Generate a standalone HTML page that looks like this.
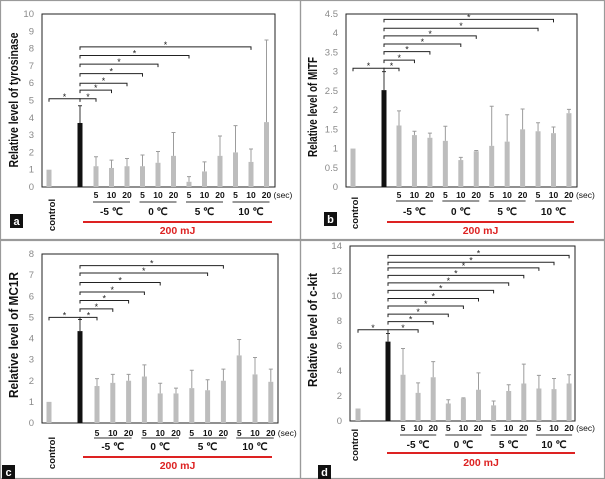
<!DOCTYPE html>
<html><head><meta charset="utf-8"><style>
html,body{margin:0;padding:0;background:#fff;}
svg{display:block;font-family:"Liberation Sans",sans-serif;}
</style></head><body>
<svg id="fig" width="605" height="479" viewBox="0 0 605 479"></svg>
<script>
// ---- data ----
const categories = ["control","200mJ","-5C 5","-5C 10","-5C 20","0C 5","0C 10","0C 20","5C 5","5C 10","5C 20","10C 5","10C 10","10C 20"];
const tyrValues = [1,3.7,1.2,1.1,1.2,1.2,1.4,1.8,0.3,0.9,1.8,2.0,1.45,3.75];
const tyrErr    = [1,4.7,1.75,1.55,1.65,1.85,2.05,3.15,0.6,1.45,2.95,3.55,2.2,8.5];
const tyrTicks  = [0,1,2,3,4,5,6,7,8,9,10];
const tyrBrEnds = [0,1,2,3,4,6,10];
const tyrBrLevels=[5.1,5.6,6.0,6.55,7.1,7.6,8.1];
const tyrCtrlLevel=5.1;

const mitfValues=[1,2.52,1.6,1.35,1.28,1.2,0.7,0.93,1.07,1.18,1.5,1.45,1.4,1.92];
const mitfErr   =[1,3.0,1.98,1.45,1.4,1.58,0.77,0.95,2.1,1.88,2.03,1.67,1.56,2.02];
const mitfTicks =["0","0.5","1","1.5","2","2.5","3","3.5","4","4.5"];
const mitfBrEnds=[0,1,2,4,5,9,10];
const mitfBrLevels=[3.09,3.3,3.52,3.72,3.93,4.13,4.36];
const mitfCtrlLevel=3.09;

const mc1rValues=[1,4.35,1.75,1.9,2.0,2.2,1.4,1.4,1.65,1.55,2.0,3.2,2.3,1.95];
const mc1rErr   =[1,4.9,2.1,2.3,2.3,2.75,1.88,1.65,2.5,2.05,2.55,3.95,3.1,2.55];
const mc1rTicks =[0,1,2,3,4,5,6,7,8];
const mc1rBrEnds=[0,1,2,3,4,7,8];
const mc1rBrLevels=[5.0,5.4,5.8,6.2,6.65,7.1,7.45];
const mc1rCtrlLevel=5.0;

const ckitValues=[1,6.35,3.7,2.25,3.5,1.4,1.8,2.5,1.25,2.4,3.0,2.6,2.55,3.0];
const ckitErr   =[1,7.0,5.8,3.05,4.75,1.7,1.85,3.85,1.6,2.9,4.55,3.65,3.4,3.7];
const ckitTicks =[0,2,4,6,8,10,12,14];
const ckitBrEnds=[1,2,3,4,5,6,7,8,9,10,11];
const ckitBrLevels=[7.3,7.95,8.55,9.2,9.8,10.45,11.05,11.65,12.25,12.7,13.25];
const ckitCtrlLevel=7.3;

const secLabels=["5","10","20"];
const tempLabels=["-5 ℃","0 ℃","5 ℃","10 ℃"];

// ---- drawing ----
const NS="http://www.w3.org/2000/svg";
const svg=document.getElementById('fig');
function mk(tag,attrs,parent,text){const e=document.createElementNS(NS,tag);for(const k in attrs)e.setAttribute(k,attrs[k]);if(text!==undefined)e.textContent=text;(parent||svg).appendChild(e);return e;}

function panel(c){
  const g=mk('g',{});
  
  
  const fr=mk('rect',{x:c.bx,y:c.by,width:c.bw,height:c.bh,fill:'none',stroke:'#9a9a9a','stroke-width':1.2},g);
  
  const y=v=>c.y0-v*(c.y0-c.yTop)/c.max;
  const x=i=> i===0?c.xc: i===1?c.xb : c.x0+(i-2)*c.dx;
  const pf=mk('rect',{x:c.left,y:c.yTop,width:c.right-c.left,height:c.y0-c.yTop,fill:'none',stroke:'#222','stroke-width':1},g);
  
  c.ticks.forEach(t=>{const tl=mk('text',{x:c.left-8,y:y(+t)+3,'text-anchor':'end','font-size':9.5,fill:'#8a8a8a'},g,String(t));
    });
  c.vals.forEach((v,i)=>{
    const cx=x(i),col=i===1?'#111':'#bdbdbd',ec=i===1?'#333':'#9c9c9c';
    const b=mk('rect',{x:cx-2.5,y:y(v),width:5,height:c.y0-y(v),fill:col},g);
    
    if(i>0){const e=c.err[i];
      const l=mk('path',{d:`M${cx} ${y(v)}V${y(e)}M${cx-2} ${y(e)}H${cx+2}`,stroke:ec,'stroke-width':1,fill:'none'},g);
      }
  });
  function br(x1,x2,lv){const yy=y(lv);
    const p=mk('path',{d:`M${x1} ${yy+3}V${yy}H${x2}V${yy+3}`,stroke:'#222','stroke-width':1,fill:'none'},g);
    
    const s=mk('text',{x:(x1+x2)/2,y:yy+1,'text-anchor':'middle','font-size':9,fill:'#222'},g,'*');
    }
  br(x(0),x(1),c.ctrl);
  c.brEnds.forEach((k,j)=>br(x(1),x(k+2),c.brLv[j]));
  for(let i=0;i<12;i++){const t=mk('text',{x:x(i+2),y:c.secY,'text-anchor':'middle','font-size':8.5,'font-weight':'bold',fill:'#111'},g,secLabels[i%3]);
    }
  const sc=mk('text',{x:x(13)+7,y:c.secY,'font-size':8.5,fill:'#111'},g,'(sec)');
  
  for(let k=0;k<4;k++){const a=x(2+3*k)-3,bb=x(4+3*k)+3;
    const u=mk('line',{x1:a,x2:bb,y1:c.ulY,y2:c.ulY,stroke:'#333','stroke-width':1},g);
    
    const t=mk('text',{x:(a+bb)/2,y:c.tempY,'text-anchor':'middle','font-size':10,'font-weight':'bold',fill:'#111'},g,tempLabels[k]);
    }
  const rl=mk('line',{x1:c.redX1,x2:c.redX2,y1:c.redY,y2:c.redY,stroke:'#d22','stroke-width':2},g);
  
  const mj=mk('text',{x:(c.redX1+c.redX2)/2,y:c.mjY,'text-anchor':'middle','font-size':10.5,'font-weight':'bold',fill:'#d22'},g,'200 mJ');
  
  const ct=mk('text',{transform:`translate(${c.ctrlX+3},${c.ctrlY}) rotate(-90)`,'text-anchor':'middle','font-size':9.5,'font-weight':'bold',fill:'#111'},g,'control');
  
  const yt=mk('text',{transform:`translate(${c.titleX+5},${c.titleY}) rotate(-90)`,'text-anchor':'middle','font-size':13,'font-weight':'bold',fill:'#111',textLength:c.titleLen,lengthAdjust:'spacingAndGlyphs'},g,c.title);
  
  const lb=mk('rect',{x:c.lx,y:c.ly,width:13,height:14,fill:'#111'},g);
  
  const lt=mk('text',{x:c.lx+6.5,y:c.ly+11,'text-anchor':'middle','font-size':11,'font-weight':'bold',fill:'#fff'},g,c.letter);
  
}

panel({name:'panel-a-tyrosinase',bx:0.5,by:0.5,bw:300,bh:239,left:42,right:275,yTop:14,y0:187,max:10,xc:49,xb:80,x0:96,dx:15.5,
  vals:tyrValues,err:tyrErr,ticks:tyrTicks,brEnds:tyrBrEnds,brLv:tyrBrLevels,ctrl:tyrCtrlLevel,
  secY:198,ulY:202,tempY:215,redX1:83,redX2:272,redY:222,mjY:234,ctrlX:52,ctrlY:215,titleX:13,titleY:100,titleLen:135,
  title:'Relative level of tyrosinase',lx:10,ly:214,letter:'a'});
panel({name:'panel-b-mitf',bx:300.5,by:0.5,bw:304,bh:239,left:346,right:577,yTop:14,y0:187,max:4.5,xc:353,xb:384,x0:399,dx:15.45,
  vals:mitfValues,err:mitfErr,ticks:mitfTicks,brEnds:mitfBrEnds,brLv:mitfBrLevels,ctrl:mitfCtrlLevel,
  secY:198,ulY:201,tempY:215,redX1:387,redX2:574,redY:222,mjY:234,ctrlX:355,ctrlY:213,titleX:312,titleY:107,titleLen:100,
  title:'Relative level of MITF',lx:324,ly:212,letter:'b'});
panel({name:'panel-c-mc1r',bx:0.5,by:240.5,bw:300,bh:238,left:42,right:278,yTop:254,y0:423,max:8,xc:49,xb:80,x0:97,dx:15.8,
  vals:mc1rValues,err:mc1rErr,ticks:mc1rTicks,brEnds:mc1rBrEnds,brLv:mc1rBrLevels,ctrl:mc1rCtrlLevel,
  secY:436,ulY:438,tempY:450,redX1:83,redX2:272,redY:457,mjY:469,ctrlX:52,ctrlY:453,titleX:13,titleY:335,titleLen:126,
  title:'Relative level of MC1R',lx:2,ly:465,letter:'c'});
panel({name:'panel-d-ckit',bx:300.5,by:240.5,bw:304,bh:238,left:350,right:575,yTop:246,y0:421,max:14,xc:358,xb:388,x0:403,dx:15.1,
  vals:ckitValues,err:ckitErr,ticks:ckitTicks,brEnds:ckitBrEnds,brLv:ckitBrLevels,ctrl:ckitCtrlLevel,
  secY:431,ulY:435,tempY:448,redX1:387,redX2:575,redY:453,mjY:466,ctrlX:355,ctrlY:445,titleX:312,titleY:330,titleLen:114,
  title:'Relative level of c-kit',lx:318,ly:465,letter:'d'});
</script>
</body></html>
